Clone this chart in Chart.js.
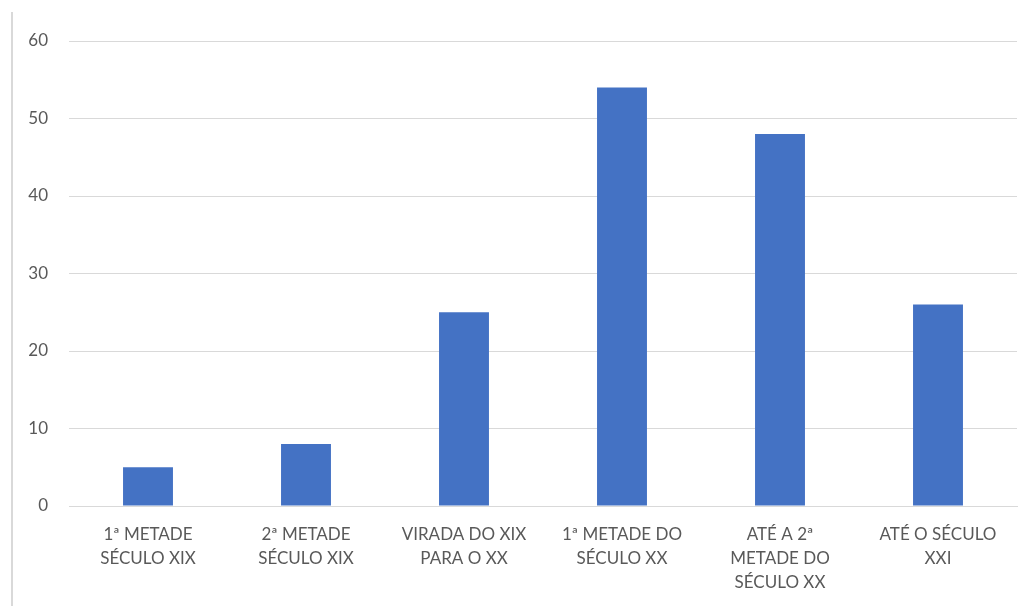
<!DOCTYPE html>
<html>
<head>
<meta charset="utf-8">
<script src="https://cdn.jsdelivr.net/npm/chart.js@4/dist/chart.umd.min.js"></script>
<style>
  html, body { margin: 0; padding: 0; background: #fff; }
  #frame { position: absolute; left: 11px; top: 12px; width: 0; height: 594px; border-left: 2px solid #d9d9d9; }
  canvas { position: absolute; left: 0; top: 0; }
</style>
</head>
<body>
<div id="frame"></div>
<canvas id="periodChart" width="1029" height="606"></canvas>
<script>
// periods (wrapped the way the axis shows them)
const periods = [
    ["1ª METADE", "SÉCULO XIX"],
    ["2ª METADE", "SÉCULO XIX"],
    ["VIRADA DO XIX", "PARA O XX"],
    ["1ª METADE DO", "SÉCULO XX"],
    ["ATÉ A 2ª", "METADE DO", "SÉCULO XX"],
    ["ATÉ O SÉCULO", "XXI"]
];
const counts = [5, 8, 25, 54, 48, 26];
const yTicks = [0, 10, 20, 30, 40, 50, 60];

const textColor = "#595959";
const gridColor = "#d9d9d9";
const family = "Lato, 'Open Sans', sans-serif";

new Chart(document.getElementById("periodChart"), {
    type: "bar",
    data: {
        labels: periods,
        datasets: [{
            data: counts,
            backgroundColor: "#4472c4",
            categoryPercentage: 1,
            barPercentage: 0.316
        }]
    },
    options: {
        responsive: false,
        animation: false,
        layout: { padding: { top: 41, right: 12, left: 0, bottom: 0 } },
        plugins: {
            legend: { display: false },
            tooltip: { enabled: false }
        },
        scales: {
            x: {
                grid: { display: false },
                border: { color: gridColor, width: 1 },
                ticks: {
                    color: textColor,
                    font: { family: family, size: 17, lineHeight: 1.42 },
                    padding: 8,
                    maxRotation: 0,
                    autoSkip: false
                },
                afterFit: s => { s.height = 100; }
            },
            y: {
                min: 0,
                max: 60,
                afterBuildTicks: s => { s.ticks = yTicks.map(v => ({ value: v })); },
                grid: { color: gridColor, lineWidth: 1, drawTicks: false },
                border: { display: false },
                ticks: { color: textColor, font: { family: family, size: 17 }, padding: 21 },
                afterFit: s => { s.width = 69; }
            }
        }
    }
});
</script>
</body>
</html>
